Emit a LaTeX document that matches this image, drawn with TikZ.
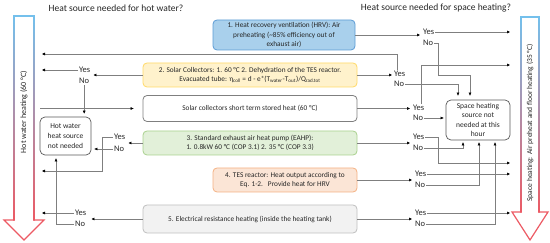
\documentclass[tikz,border=0pt]{standalone}
\usepackage{fontspec}
\setmainfont{Carlito}
\usetikzlibrary{arrows.meta,calc}
\definecolor{txt}{HTML}{262626}
\definecolor{lin}{HTML}{7F7F7F}
\definecolor{bluef}{HTML}{A9D0EC}
\definecolor{blued}{HTML}{5B9BD5}
\definecolor{yelf}{HTML}{FFF2CC}
\definecolor{yeld}{HTML}{FFD966}
\definecolor{grnf}{HTML}{E2F0D9}
\definecolor{grnd}{HTML}{A9D18E}
\definecolor{orf}{HTML}{FBE5D6}
\definecolor{ord}{HTML}{F4B183}
\definecolor{gyf}{HTML}{F2F2F2}
\definecolor{gyd}{HTML}{BFBFBF}
\definecolor{wbd}{HTML}{7F7F7F}
\definecolor{nbd}{HTML}{595959}
\definecolor{arrblue}{HTML}{74C0EC}
\definecolor{arrred}{HTML}{EC5A64}
\begin{document}
\begin{tikzpicture}[x=1pt,y=-1pt,
  box/.style={draw, rounded corners=4pt, align=center, inner sep=1pt, line width=0.8pt,
    text=txt, font=\fontsize{7.3}{9.2}\selectfont},
  nbox/.style={draw=nbd, fill=white, rounded corners=5pt, align=center, inner sep=1pt,
    line width=0.7pt, text=txt},
  yn/.style={anchor=west, inner sep=1pt, text=txt, font=\fontsize{8.5}{10}\selectfont},
  arr/.style={draw=lin, line width=0.5pt, -{Triangle[length=3pt,width=2.6pt,color=black]}},
  title/.style={text=txt, font=\fontsize{9.5}{11}\selectfont},
  side/.style={rotate=90, text=txt}
]
\useasboundingbox (0,0) rectangle (550,243);

% ---------- big side arrows ----------
\shade[top color=arrblue, bottom color=arrred] (13.4,16) rectangle (14.6,220.4);
\shade[top color=arrblue, bottom color=arrred] (33.4,16) rectangle (34.6,220.4);
\draw[arrblue, line width=1.2pt] (13.4,16) -- (34.6,16);
\draw[arrred, line width=1.2pt, line join=miter] (14.6,220) -- (4,220) -- (24,240) -- (44,220) -- (33.4,220);

\shade[top color=arrblue, bottom color=arrred] (520.4,17) rectangle (521.6,212.4);
\shade[top color=arrblue, bottom color=arrred] (538.4,17) rectangle (539.6,212.4);
\draw[arrblue, line width=1.2pt] (520.4,17) -- (539.6,17);
\draw[arrred, line width=1.2pt, line join=miter] (521.6,212) -- (512,212) -- (530,240) -- (548,212) -- (538.4,212);

\node[side, font=\fontsize{8}{9}\selectfont] (hwt) at (24,112) {Hot water heating (60 °C)};
\node[side, font=\fontsize{7.5}{9}\selectfont] (sht) at (530,123) {Space heating: Air preheat and floor heating (35 °C)};

% ---------- titles ----------
\node[title] (t1) at (116,8) {Heat source needed for hot water?};
\node[title] (t2) at (436,8) {Heat source needed for space heating?};

% ---------- boxes ----------
\node[box, fill=bluef, draw=blued, minimum width=142pt, minimum height=30pt] (b1) at (284,35)
  {1. Heat recovery ventilation (HRV): Air\\ preheating (\textasciitilde85\% efficiency out of\\ exhaust air)};
\node[box, fill=yelf, draw=yeld, minimum width=214pt, minimum height=24pt] (b2) at (250,75)
  {2. Solar Collectors: 1. 60 °C 2. Dehydration of the TES reactor.\\
   Evacuated tube: η\textsubscript{coll} = d - e*(T\textsubscript{water}-T\textsubscript{out})/Q\textsubscript{rad.tot}};
\node[box, fill=white, draw=wbd, minimum width=214pt, minimum height=26pt] (b3) at (250,108.5)
  {Solar collectors short term stored heat (60 °C)};
\node[box, fill=grnf, draw=grnd, minimum width=214pt, minimum height=24pt] (b4) at (250,143)
  {3. Standard exhaust air heat pump (EAHP):\\ 1. 0.8kW 60 °C (COP 3.1) 2. 35 °C (COP 3.3)};
\node[box, fill=orf, draw=ord, minimum width=144pt, minimum height=24pt] (b5) at (285,180)
  {4. TES reactor: Heat output according to\\ Eq. 1-2.\ \ \ Provide heat for HRV};
\node[box, fill=gyf, draw=gyd, minimum width=214pt, minimum height=28pt] (b6) at (250,219)
  {5. Electrical resistance heating (inside the heating tank)};

\node[nbox, minimum width=51pt, minimum height=38pt, font=\fontsize{7.5}{10}\selectfont] (hwb) at (65.5,136)
  {Hot water\\heat source\\not needed};
\node[nbox, minimum width=64pt, minimum height=40pt, font=\fontsize{7.5}{9.3}\selectfont] (shb) at (478,120)
  {Space heating\\source not\\needed at this\\hour};

% ---------- Yes / No labels ----------
\node[yn] (y1) at (422,32) {Yes};  \node[yn] (n1) at (422,43) {No};
\node[yn] (y2) at (393,74) {Yes};  \node[yn] (n2) at (393,84) {No};
\node[yn] (y3) at (412,108) {Yes}; \node[yn] (n3) at (412,118) {No};
\node[yn] (y4) at (412,137) {Yes}; \node[yn] (n4) at (412,148) {No};
\node[yn] (y5) at (414,174) {Yes}; \node[yn] (n5) at (414,185) {No};
\node[yn] (y6) at (414,213) {Yes}; \node[yn] (n6) at (414,224) {No};

\node[yn] (yl2) at (78,70) {Yes};   \node[yn] (nl2) at (78,81) {No};
\node[yn] (yl4) at (113,137) {Yes}; \node[yn] (nl4) at (113,149) {No};
\node[yn] (yl6) at (74,213) {Yes};  \node[yn] (nl6) at (74,224) {No};

% ---------- free ends ----------
\coordinate (shL) at (510,0);
\coordinate (hwR) at (42,0);
\coordinate (hw1) at (42,54);
\coordinate (hw4) at (42,171);
\coordinate (sh2) at (510,65);
\coordinate (sh3) at (510,163);

% ---------- right-hand connectors ----------
\draw[arr, shorten >=2pt] (b1.east) -- (b1.east -| y1.west);
\draw[arr] (y1.east) -- (y1.east -| shL);
\draw[arr, shorten >=4pt] (n1.east) -| (438,75) -| ([xshift=-8pt]shb.north);

\draw[arr, shorten >=1pt] (b2.east) -- (b2.east -| y2.west);
\draw[arr] ([xshift=-2pt]y2.north) |- (hw1);
\draw[arr, shorten >=4pt] (n2.east) -| ([xshift=-20pt]shb.north);

\draw[arr, shorten >=2pt] (b3.east) -- (b3.east -| y3.west);
\draw[arr] ([xshift=3pt]y3.north) |- (sh2);
\draw[arr, shorten >=2pt] (n3.east) -- (n3.east -| shb.west);

\draw[arr, shorten >=2pt] (b4.east) -- (b4.east -| y4.west);
\draw[arr] (y4.east) -| (438,163) -- (sh3);
\draw[arr, shorten >=2pt] (n4.east) -| ([xshift=-15pt]shb.south);

\draw[arr, shorten >=2pt] (b5.east) -- (b5.east -| y5.west);
\draw[arr] (y5.east) -- (y5.east -| shL);
\draw[arr, shorten >=2pt] (n5.east) -| ([xshift=1pt]shb.south);

\draw[arr, shorten >=2pt] (b6.east) -- (b6.east -| y6.west);
\draw[arr] (y6.east) -- (y6.east -| shL);
\draw[arr, shorten >=2pt] (n6.east) -| ([xshift=17pt]shb.south);

% ---------- left-hand connectors ----------
\draw[arr, shorten >=2pt] (b2.west) -- (b2.west -| yl2.east);
\draw[arr] (yl2.west) -- (yl2.west -| hwR);
\draw[arr, shorten >=3pt] (nl2.south) -- (nl2.south |- hwb.north);

\draw[arr, shorten >=9pt] ([xshift=-2pt]hwR |- b3.west) -- (b3.west);

\draw[arr, shorten >=2pt] (b4.west) -- (b4.west -| yl4.east);
\draw[arr] (yl4.west) -| (102,171) -- (hw4);
\draw[arr, shorten >=3pt] (nl4.west) -- (nl4.west -| hwb.east);

\draw[arr, shorten >=4pt] (b6.west) -- (b6.west -| yl6.east);
\draw[arr] (yl6.west) -- (yl6.west -| hwR);
\draw[arr, shorten >=3pt] (nl6.west) -| ([xshift=-9.5pt]hwb.south);
\end{tikzpicture}
\end{document}
